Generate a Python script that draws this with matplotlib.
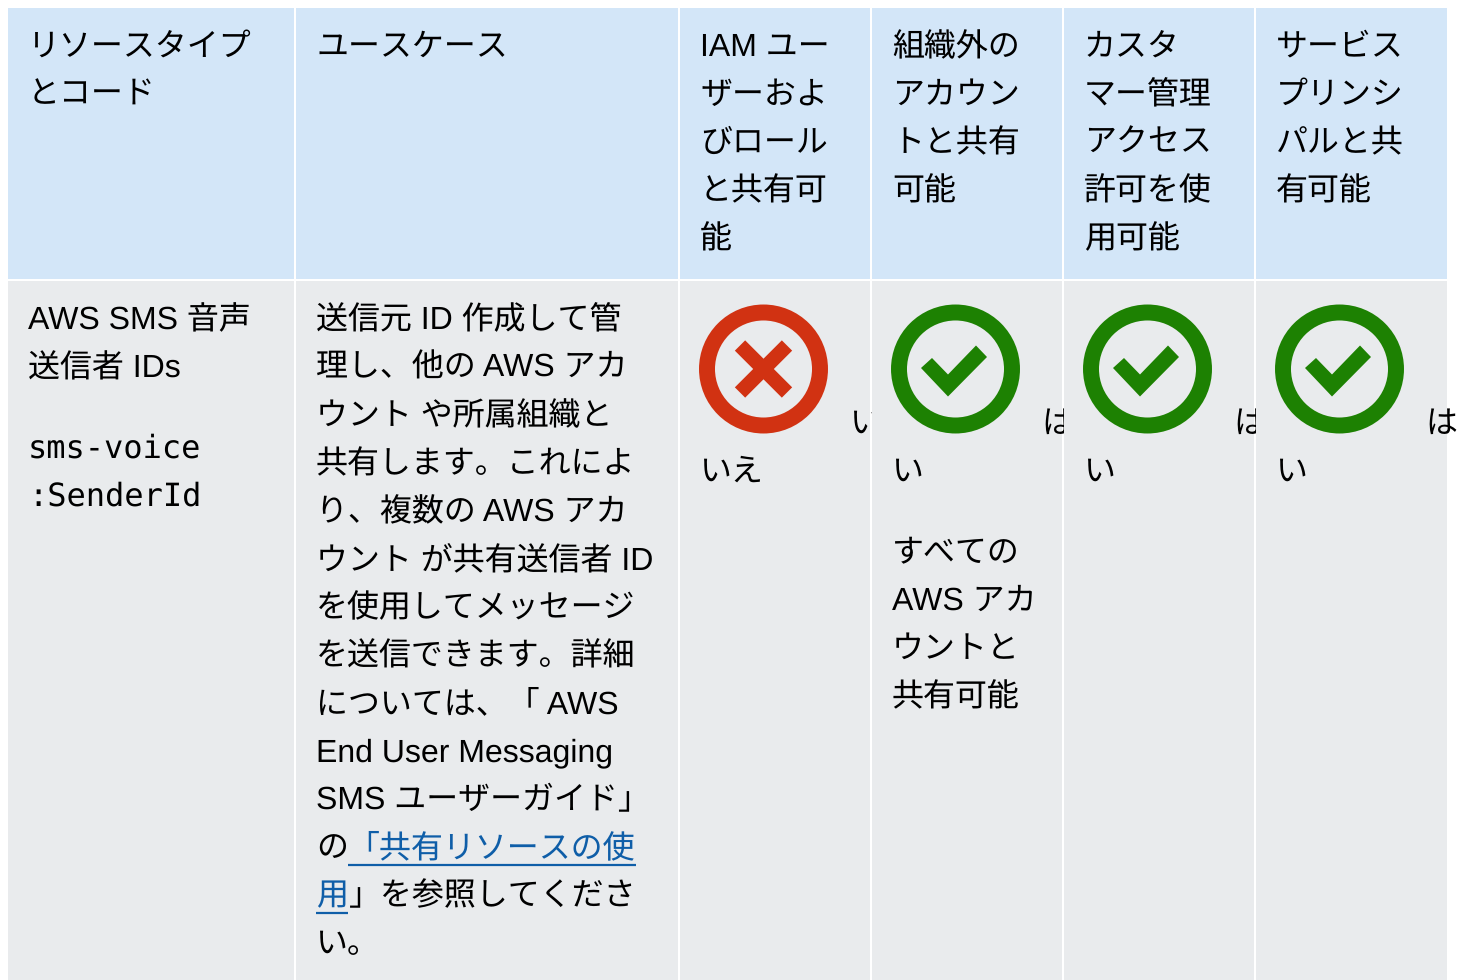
import matplotlib
matplotlib.use('Agg')
import matplotlib.pyplot as plt
from matplotlib.patches import Rectangle, Circle, Polygon

plt.rcParams['font.family'] = ['Liberation Sans', 'Noto Sans CJK JP', 'DejaVu Sans']
plt.rcParams['text.hinting'] = 'none'

# table text
header_cells = [
    ['リソースタイプ', 'とコード'],
    ['ユースケース'],
    ['IAM ユー', 'ザーおよ', 'びロール', 'と共有可', '能'],
    ['組織外の', 'アカウン', 'トと共有', '可能'],
    ['カスタ', 'マー管理', 'アクセス', '許可を使', '用可能'],
    ['サービス', 'プリンシ', 'パルと共', '有可能'],
]
resource_name = ['AWS SMS 音声', '送信者 IDs']
resource_code = ['sms-voice', ':SenderId']
use_case = [
    '送信元 ID 作成して管',
    '理し、他の AWS アカ',
    'ウント や所属組織と',
    '共有します。これによ',
    'り、複数の AWS アカ',
    'ウント が共有送信者 ID',
    'を使用してメッセージ',
    'を送信できます。詳細',
    'については、「 AWS',
    'End User Messaging',
    'SMS ユーザーガイド」',
    'の',
]
link_1 = '「共有リソースの使'
link_2 = '用'
after_link = '」を参照してくださ'
last_line = 'い。'
answers = [('い', 'いえ', False), ('は', 'い', True), ('は', 'い', True), ('は', 'い', True)]
org_note = ['すべての', 'AWS アカ', 'ウントと', '共有可能']

# layout, pixels
col_edges = [8, 295, 679, 871, 1063, 1255, 1447.5]
text_x = [28, 316, 700, 892, 1084, 1276]
icon_x = [763.5, 955.5, 1147.5, 1339.5]
header_bg = '#d3e6f8'
body_bg = '#e9ebed'
link_col = '#0f5ea8'
red = '#d13212'
green = '#1d8102'
fs = 23

fig = plt.figure(figsize=(14.66, 9.8), dpi=100)
ax = fig.add_axes([0, 0, 1, 1])
ax.set_xlim(0, 1466)
ax.set_ylim(980, 0)
ax.axis('off')

for i in range(6):
    x0 = col_edges[i]
    x1 = col_edges[i + 1]
    if i > 0:
        x0 += 1
    ax.add_patch(Rectangle((x0, 8), x1 - x0 - 1, 271, fc=header_bg, ec='none'))
    ax.add_patch(Rectangle((x0, 281), x1 - x0 - 1, 699, fc=body_bg, ec='none'))


def put(x, y, s, **kw):
    kw.setdefault('color', '#000000')
    kw.setdefault('fontsize', fs)
    return ax.text(x, y, s, va='baseline', ha='left', **kw)


for i, cell in enumerate(header_cells):
    for j, line in enumerate(cell):
        put(text_x[i], 56 + 48 * j, line)

for j, line in enumerate(resource_name):
    put(text_x[0], 329 + 48 * j, line)
for j, line in enumerate(resource_code):
    put(text_x[0], 458 + 48 * j, line, family='DejaVu Sans Mono')

for j, line in enumerate(use_case):
    put(text_x[1], 329 + 48 * j, line)
put(347, 857, link_1, color=link_col)
ax.plot([348, 636], [865, 865], color=link_col, lw=1.6, solid_capstyle='butt')
put(text_x[1], 905, link_2, color=link_col)
ax.plot([316, 348], [913, 913], color=link_col, lw=1.6, solid_capstyle='butt')
put(349, 905, after_link)
put(text_x[1], 953, last_line)

# icons and the answers wrapping round them
for i, (first, second, ok) in enumerate(answers):
    cx = icon_x[i]
    col = green if ok else red
    ax.add_patch(Circle((cx, 369), 56.5, fc='none', ec=col, lw=11.5))
    if ok:
        ax.add_patch(Polygon([(cx - 34.5, 368), (cx - 23.5, 358), (cx - 7.5, 374.5),
                              (cx + 20.5, 345.5), (cx + 31.5, 357), (cx - 7.5, 396.5)],
                             closed=True, fc=col, ec='none'))
    else:
        ax.plot([cx - 23.5, cx + 23.5], [345.5, 392.5], color=col, lw=10.5, solid_capstyle='butt')
        ax.plot([cx - 23.5, cx + 23.5], [392.5, 345.5], color=col, lw=10.5, solid_capstyle='butt')
    t = put(cx + 86, 433, first)
    if i < 3:
        # the word is cut off at the cell edge
        t.set_clip_on(True)
        t.set_clip_path(Rectangle((0, 0), col_edges[i + 3] + 0.5, 980, transform=ax.transData))
    put(text_x[i + 2], 481, second)

for j, line in enumerate(org_note):
    put(text_x[3], 562 + 48 * j, line)

fig.savefig('out.png', dpi=100)
